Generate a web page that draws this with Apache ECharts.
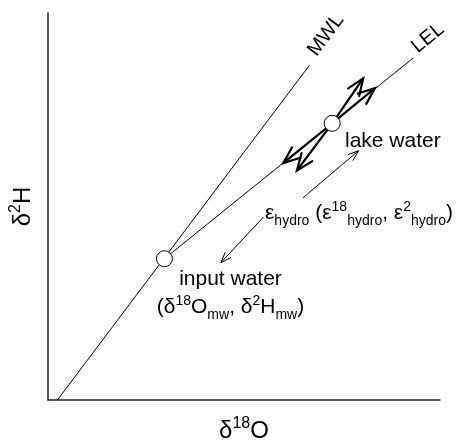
<!DOCTYPE html>
<html>
<head>
<meta charset="utf-8">
<script src="https://cdn.jsdelivr.net/npm/echarts@6/dist/echarts.min.js"></script>
<style>
  html, body { margin: 0; padding: 0; background: #fff; }
  #chart { width: 456px; height: 448px; }
</style>
</head>
<body>
<div id="chart"></div>
<script>
// Meteoric water line and local evaporation line (arbitrary δ units)
const mwlLine = [[2.4, 0], [66.7, 86.5]];
const lelLine = [[29.7, 36.5], [93.2, 88.4]];
const inputWater = [29.7, 36.5];
const lakeWater = [72.5, 71.5];
// Heads of the heavy arrows leaving the lake-water point
const heavyArrowTips = [[80.4, 83.1], [83.4, 80.6], [60.0, 61.2], [63.5, 59.3]];
// Light arrows beside the ε label: [from, to]
const lightArrows = [
  [[65.1, 52.3], [79.2, 64.4]],
  [[54.9, 47.2], [44.1, 35.5]]
];

const FONT = '"Liberation Sans", Arial, Helvetica, sans-serif';

const heavyData = heavyArrowTips.map(t => [lakeWater[0], lakeWater[1], t[0], t[1]]);
const lightData = lightArrows.map(a => [a[0][0], a[0][1], a[1][0], a[1][1]]);

function arrowRenderer(width, barb, spread) {
  return function (params, api) {
    const p0 = api.coord([api.value(0), api.value(1)]);
    const p1 = api.coord([api.value(2), api.value(3)]);
    const a = Math.atan2(p1[1] - p0[1], p1[0] - p0[0]);
    const b1 = [p1[0] - barb * Math.cos(a - spread), p1[1] - barb * Math.sin(a - spread)];
    const b2 = [p1[0] - barb * Math.cos(a + spread), p1[1] - barb * Math.sin(a + spread)];
    return {
      type: 'group',
      children: [
        { type: 'line', shape: { x1: p0[0], y1: p0[1], x2: p1[0], y2: p1[1] },
          style: { stroke: '#000', lineWidth: width, lineCap: 'round' } },
        { type: 'polyline', shape: { points: [b1, p1, b2] },
          style: { stroke: '#000', fill: null, lineWidth: width, lineJoin: 'miter', lineCap: 'round' } }
      ]
    };
  };
}

const mainStyle = { fontSize: 21, lineHeight: 28, fontFamily: FONT, color: '#000' };

const chart = echarts.init(document.getElementById('chart'), null, { renderer: 'canvas' });
chart.setOption({
  animation: false,
  backgroundColor: '#fff',
  grid: { left: 48, top: 13, width: 392, height: 392, containLabel: false },
  xAxis: {
    type: 'value', min: 0, max: 100,
    axisLine: { show: true, lineStyle: { color: '#222', width: 1.5 } },
    axisTick: { show: false }, axisLabel: { show: false }, splitLine: { show: false },
    name: '{m|δ}{sup|18}{m|O}',
    nameLocation: 'middle', nameGap: 16,
    nameTextStyle: {
      rich: {
        m: { fontSize: 24, lineHeight: 30, fontFamily: FONT, color: '#000' },
        sup: { fontSize: 16, lineHeight: 16, verticalAlign: 'top', fontFamily: FONT, color: '#000' }
      }
    }
  },
  yAxis: {
    type: 'value', min: 0, max: 100,
    axisLine: { show: true, lineStyle: { color: '#222', width: 1.5 } },
    axisTick: { show: false }, axisLabel: { show: false }, splitLine: { show: false },
    name: '{m|δ}{sup|2}{m|H}',
    nameLocation: 'middle', nameGap: 10, nameRotate: 90,
    nameTextStyle: {
      rich: {
        m: { fontSize: 24, lineHeight: 30, fontFamily: FONT, color: '#000' },
        sup: { fontSize: 16, lineHeight: 16, verticalAlign: 'top', fontFamily: FONT, color: '#000' }
      }
    }
  },
  series: [
    { type: 'line', data: mwlLine, symbol: 'none', silent: true, z: 2,
      lineStyle: { color: '#000', width: 1 } },
    { type: 'line', data: lelLine, symbol: 'none', silent: true, z: 2,
      lineStyle: { color: '#000', width: 1 } },
    { type: 'custom', data: heavyData, renderItem: arrowRenderer(2.2, 18, 0.38), z: 3,
      encode: { x: [0, 2], y: [1, 3] }, silent: true },
    { type: 'custom', data: lightData, renderItem: arrowRenderer(1, 11, 0.35), z: 3,
      encode: { x: [0, 2], y: [1, 3] }, silent: true },
    { type: 'scatter', data: [inputWater, lakeWater], symbol: 'circle', symbolSize: 16, z: 5,
      itemStyle: { color: '#fff', borderColor: '#000', borderWidth: 1, opacity: 1 }, silent: true }
  ],
  graphic: [
    { type: 'text', x: 326, y: 35, rotation: 0.932, z: 10,
      style: { text: 'MWL', font: '20px ' + FONT, fill: '#000',
               align: 'center', verticalAlign: 'middle', textAlign: 'center', textVerticalAlign: 'middle' } },
    { type: 'text', x: 428, y: 38, rotation: 0.689, z: 10,
      style: { text: 'LEL', font: '20px ' + FONT, fill: '#000',
               align: 'center', verticalAlign: 'middle', textAlign: 'center', textVerticalAlign: 'middle' } },
    { type: 'text', x: 345, y: 127, z: 10,
      style: { text: '{m|lake water}', rich: { m: mainStyle },
               align: 'left', verticalAlign: 'top', textAlign: 'left', textVerticalAlign: 'top' } },
    { type: 'text', x: 265, y: 199.7, z: 10,
      style: {
        text: '{m|ε}{sub|hydro}{m| (ε}{sup|18}{sub|hydro}{m|, ε}{sup|2}{sub|hydro}{m|)}',
        rich: {
          m: mainStyle,
          sup: { fontSize: 14, lineHeight: 14, verticalAlign: 'top', fontFamily: FONT, color: '#000' },
          sub: { fontSize: 14, lineHeight: 16, verticalAlign: 'bottom', fontFamily: FONT, color: '#000' }
        },
        align: 'left', verticalAlign: 'top', textAlign: 'left', textVerticalAlign: 'top'
      } },
    { type: 'text', x: 230.5, y: 265.7, z: 10,
      style: {
        text: '{m|input water}\n{m|(δ}{sup|18}{m|O}{sub|mw}{m|, δ}{sup|2}{m|H}{sub|mw}{m|)}',
        rich: {
          m: mainStyle,
          sup: { fontSize: 14, lineHeight: 18, verticalAlign: 'top', fontFamily: FONT, color: '#000' },
          sub: { fontSize: 14, lineHeight: 8, verticalAlign: 'bottom', fontFamily: FONT, color: '#000' }
        },
        align: 'center', verticalAlign: 'top', textAlign: 'center', textVerticalAlign: 'top'
      } }
  ]
});
</script>
</body>
</html>
